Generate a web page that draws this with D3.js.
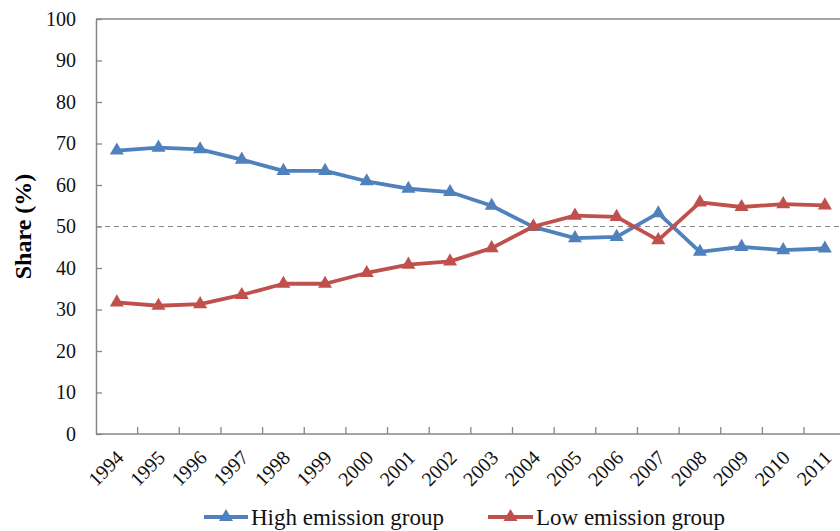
<!DOCTYPE html>
<html><head><meta charset="utf-8">
<script src="https://cdn.jsdelivr.net/npm/d3@7"></script>
<style>html,body{margin:0;padding:0;background:#fff;}svg{display:block;}</style>
</head><body>
<svg id="chart" width="840" height="531"></svg>
<script>
const years = ["1994","1995","1996","1997","1998","1999","2000","2001","2002","2003","2004","2005","2006","2007","2008","2009","2010","2011"];
const highEmission = [68.3,69.0,68.6,66.1,63.4,63.4,60.9,59.1,58.3,55.0,49.9,47.2,47.5,53.2,43.9,45.1,44.3,44.7];
const lowEmission  = [31.7,30.9,31.3,33.5,36.2,36.2,38.8,40.8,41.6,44.8,50.0,52.6,52.3,46.7,55.8,54.7,55.4,55.1];
const yTicks = [0,10,20,30,40,50,60,70,80,90,100];
const seriesNames = ["High emission group","Low emission group"];
const colors = ["#4F81BD","#C0504D"];

const svg = d3.select("#chart");
const L = 96, R = 845.7, T = 19, B = 434;
const x = d3.scaleBand().domain(years).range([L, R]).padding(0);
const y = d3.scaleLinear().domain([0,100]).range([B, T]);
const axisColor = "#878787";
const font = "'Liberation Serif','Times New Roman',serif";

// frame: top border
svg.append("line").attr("x1", L).attr("x2", 840).attr("y1", T).attr("y2", T)
  .attr("stroke", axisColor).attr("stroke-width", 1.3);

// Y axis
const yAxis = d3.axisLeft(y).tickValues(yTicks).tickSizeInner(-6).tickSizeOuter(0).tickPadding(20);
const gy = svg.append("g").attr("transform", `translate(${L},0)`).call(yAxis);
gy.select(".domain").attr("stroke", axisColor).attr("stroke-width", 1.5);
gy.selectAll(".tick line").attr("stroke", axisColor).attr("stroke-width", 1.3);
gy.selectAll(".tick text").attr("font-family", font).attr("font-size", 20).attr("fill", "#111");

// X axis line and ticks at category boundaries
svg.append("line").attr("x1", L).attr("x2", 840).attr("y1", B).attr("y2", B)
  .attr("stroke", axisColor).attr("stroke-width", 1.5);
const bounds = years.map(d => x(d)).concat([x(years[years.length-1]) + x.bandwidth()]);
svg.selectAll(".xtick").data(bounds.slice(1)).enter().append("line")
  .attr("x1", d => d).attr("x2", d => d).attr("y1", B).attr("y2", B - 7)
  .attr("stroke", axisColor).attr("stroke-width", 1.3);
svg.selectAll(".xlab").data(years).enter().append("text")
  .attr("transform", d => `translate(${x(d) + x.bandwidth()/2 + 3},${B + 20}) rotate(-45)`)
  .attr("text-anchor", "end").attr("dy", "0.35em")
  .attr("font-family", font).attr("font-size", 20).attr("fill", "#111")
  .text(d => d);

// 50% dashed reference
svg.append("line").attr("x1", L).attr("x2", 840).attr("y1", y(50)).attr("y2", y(50))
  .attr("stroke", "#8a8a8a").attr("stroke-width", 1.2).attr("stroke-dasharray", "5,4");

// Y label
svg.append("text").attr("transform", `translate(31,${(T+B)/2}) rotate(-90)`)
  .attr("text-anchor", "middle").attr("font-family", font).attr("font-weight", "bold")
  .attr("font-size", 24).attr("fill", "#000").text("Share (%)");

// series
const data = [highEmission, lowEmission];
const line = d3.line().x((d,i) => x(years[i]) + x.bandwidth()/2).y(d => y(d));
const tri = d3.symbol().type(d3.symbolTriangle).size(85);
data.forEach((vals, si) => {
  svg.append("path").datum(vals).attr("d", line).attr("fill", "none")
    .attr("stroke", colors[si]).attr("stroke-width", 3.8).attr("stroke-linejoin", "round");
  svg.selectAll(".m" + si).data(vals).enter().append("path")
    .attr("d", tri)
    .attr("transform", (d,i) => `translate(${x(years[i]) + x.bandwidth()/2},${y(d)})`)
    .attr("fill", colors[si]);
});

// legend
const legendItems = [{x1: 204, x2: 248, tx: 251}, {x1: 488, x2: 533, tx: 536}];
legendItems.forEach((it, i) => {
  const ly = 517;
  svg.append("line").attr("x1", it.x1).attr("x2", it.x2).attr("y1", ly).attr("y2", ly)
    .attr("stroke", colors[i]).attr("stroke-width", 3.8);
  svg.append("path").attr("d", tri).attr("transform", `translate(${(it.x1+it.x2)/2},${ly})`).attr("fill", colors[i]);
  svg.append("text").attr("x", it.tx).attr("y", ly + 8).attr("font-family", font)
    .attr("font-size", 23).attr("fill", "#111").text(seriesNames[i]);
});
</script>
</body></html>
